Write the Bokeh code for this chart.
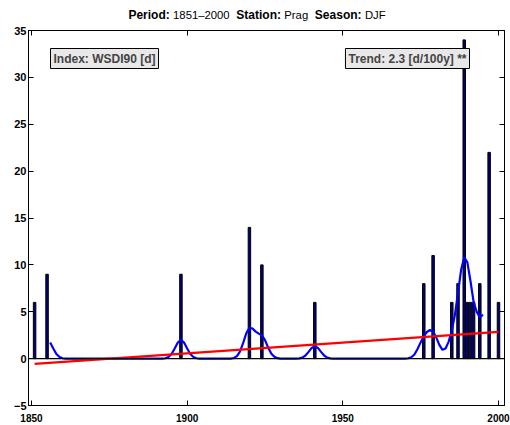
from bokeh.plotting import figure
from bokeh.models import Range1d, LinearAxis, FixedTicker, Label, Span, Div
from bokeh.layouts import column
from bokeh.embed import file_html
from bokeh.resources import INLINE

# ---- data ----
bar_years = [1851, 1855, 1898, 1920, 1924, 1941, 1976, 1979, 1985, 1987,
             1989, 1990, 1991, 1992, 1994, 1997, 2000]
bar_values = [6, 9, 9, 14, 10, 6, 8, 11, 6, 8,
              34, 6, 6, 6, 8, 22, 6]

smooth_years = list(range(1856, 1996))
smooth_values = [
    1.71, 1.08, 0.50, 0.17, 0.04,                                   # 1856-1860
    0, 0, 0, 0, 0, 0, 0, 0, 0, 0, 0, 0, 0, 0, 0, 0,                 # 1861-1876
    0, 0, 0, 0, 0, 0, 0, 0, 0, 0, 0, 0, 0, 0, 0, 0,                 # 1877-1892
    0.04, 0.17, 0.50, 1.08, 1.71, 2.00, 1.71, 1.08, 0.50, 0.17, 0.04,  # 1893-1903
    0, 0, 0, 0, 0, 0, 0, 0, 0, 0, 0,                                # 1904-1914
    0.07, 0.27, 0.77, 1.68, 2.71, 3.30, 3.21, 2.88, 2.67, 2.49,     # 1915-1924
    1.97, 1.20, 0.55, 0.19, 0.05,                                   # 1925-1929
    0, 0, 0, 0, 0, 0,                                               # 1930-1935
    0.03, 0.11, 0.33, 0.72, 1.14, 1.33, 1.14, 0.72, 0.33, 0.11, 0.03,  # 1936-1946
    0, 0, 0, 0, 0, 0, 0, 0, 0, 0, 0, 0,                             # 1947-1958
    0, 0, 0, 0, 0, 0, 0, 0, 0, 0, 0, 0,                             # 1959-1970
    0.04, 0.15, 0.44, 1.02, 1.73, 2.38, 2.84, 3.05, 2.88, 2.27,     # 1971-1980
    1.47, 0.94, 1.08, 1.81, 2.97, 4.67, 7.05, 9.47, 10.81, 10.27,   # 1981-1990
    8.28, 6.06, 5.00, 4.40, 4.70,                                   # 1991-1995
]

trend_years = [1851, 2000]
trend_values = [-0.57, 2.86]

x_ticks = [1850, 1900, 1950, 2000]
x_tick_labels = ["1850", "1900", "1950", "2000"]
y_ticks = [-5, 0, 5, 10, 15, 20, 25, 30, 35]
y_tick_labels = ["\u22125", "0", "5", "10", "15", "20", "25", "30", "35"]

title_parts = [("Period:", "1851\u20132000"), ("Station:", "Prag"), ("Season:", "DJF")]

index_text = "Index: WSDI90 [d]"
trend_text = "Trend: 2.3 [d/100y] **"

FONT = "Liberation Sans"

title_html = "&nbsp;&nbsp;".join(
    f"<b style='font-size:12px'>{k}</b> <span style='font-size:11.3px'>{v}</span>"
    for k, v in title_parts)
title_div = Div(text=title_html, width=510, height=22, margin=(0, 0, 0, 0),
                styles={"font-family": FONT, "color": "black", "text-align": "center",
                        "padding-top": "8px", "padding-left": "4px",
                        "line-height": "14px", "box-sizing": "border-box",
                        "width": "510px", "background": "white"})

p = figure(width=510, height=403,
           min_border_left=28, min_border_top=8, min_border_right=6, min_border_bottom=20,
           x_range=Range1d(1849.04, 2001.93), y_range=Range1d(-5, 35),
           output_backend="svg", toolbar_location=None,
           background_fill_color="white", border_fill_color="white")
p.grid.visible = False
p.outline_line_color = "black"
p.outline_line_width = 1

def style_axis(ax, ticks, labels, size, standoff):
    ax.ticker = FixedTicker(ticks=ticks)
    ax.major_label_overrides = {t: l for t, l in zip(ticks, labels)}
    ax.major_tick_in = 5
    ax.major_tick_out = 0
    ax.minor_tick_line_color = None
    ax.axis_line_color = "black"
    ax.major_tick_line_color = "black"
    ax.major_label_text_font = FONT
    ax.major_label_text_font_style = "bold"
    ax.major_label_text_font_size = size
    ax.major_label_text_color = "black"
    ax.major_label_standoff = standoff

style_axis(p.xaxis[0], x_ticks, x_tick_labels, "10px", 8)
style_axis(p.yaxis[0], y_ticks, y_tick_labels, "11px", 2)

# mirrored tick axes (no labels)
right_ax = LinearAxis()
style_axis(right_ax, y_ticks, [""] * len(y_ticks), "10px", 0)
top_ax = LinearAxis()
style_axis(top_ax, x_ticks, [""] * len(x_ticks), "10px", 0)
p.add_layout(right_ax, "right")
p.add_layout(top_ax, "above")

p.vbar(x=bar_years, top=bar_values, bottom=0, width=0.8,
       fill_color="#000080", line_color="black", line_width=1)
p.add_layout(Span(location=0, dimension="width", line_color="black", line_width=1.2))
p.line(smooth_years, smooth_values, line_color="#0000ff", line_width=2.2)
p.line(trend_years, trend_values, line_color="#ff0000", line_width=2.2)

p.add_layout(Label(x=22, y=357, x_units="screen", y_units="screen", text=index_text,
                   text_font=FONT, text_font_style="bold", text_font_size="12px",
                   text_baseline="top", text_align="left",
                   background_fill_color="#e8e8e8", border_line_color="black",
                   border_line_width=1, padding=3))
p.add_layout(Label(x=441, y=357, x_units="screen", y_units="screen", text=trend_text,
                   text_font=FONT, text_font_style="bold", text_font_size="12px",
                   text_baseline="top", text_align="right",
                   background_fill_color="#e8e8e8", border_line_color="black",
                   border_line_width=1, padding=3))

layout = column(title_div, p, spacing=0)
open("out.html", "w").write(file_html(layout, INLINE))
